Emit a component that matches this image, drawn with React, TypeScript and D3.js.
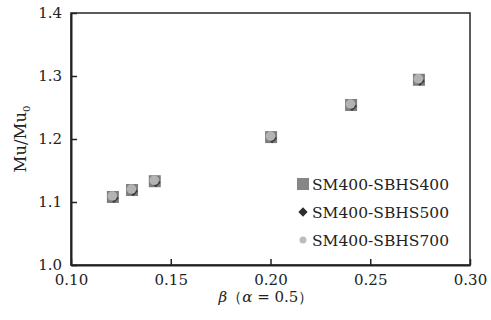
import { useRef, useEffect } from 'react';
import * as d3 from 'd3';

// values
const beta400 = [0.121, 0.1306, 0.142, 0.2003, 0.2404, 0.2744];
const mu400 = [1.108, 1.119, 1.133, 1.203, 1.254, 1.294];
const beta500 = [0.1215, 0.1311, 0.1425, 0.2008, 0.2409, 0.2749];
const mu500 = [1.106, 1.117, 1.131, 1.201, 1.252, 1.292];
const beta700 = [0.1207, 0.1303, 0.1417, 0.2, 0.2401, 0.2741];
const mu700 = [1.1095, 1.1205, 1.1345, 1.2045, 1.2555, 1.2955];
const xTicks = [0.1, 0.15, 0.2, 0.25, 0.3];
const yTicks = [1.0, 1.1, 1.2, 1.3, 1.4];
const seriesNames = ['SM400-SBHS400', 'SM400-SBHS500', 'SM400-SBHS700'];

const W = 491;
const H = 320;
const FONT = 'DejaVu Serif';

export default function App() {
  const svgRef = useRef<SVGSVGElement>(null);

  useEffect(() => {
    document.body.style.margin = '0';
    const svg = d3.select(svgRef.current);
    svg.selectAll('*').remove();

    const margin = { top: 13, right: 21, bottom: 55, left: 71 };
    const innerW = W - margin.left - margin.right;
    const innerH = H - margin.top - margin.bottom;

    const x = d3.scaleLinear().domain([0.1, 0.3]).range([margin.left, margin.left + innerW]);
    const y = d3.scaleLinear().domain([1.0, 1.4]).range([margin.top + innerH, margin.top]);

    // frame
    svg.append('rect')
      .attr('x', margin.left).attr('y', margin.top)
      .attr('width', innerW).attr('height', innerH)
      .attr('fill', 'none').attr('stroke', '#333').attr('stroke-width', 1.6);

    // bottom axis, ticks inward
    const xAxis = svg.append('g')
      .attr('transform', 'translate(0,' + (margin.top + innerH) + ')')
      .call(d3.axisBottom(x).tickValues(xTicks).tickSizeInner(-6).tickSizeOuter(0)
        .tickFormat(d3.format('.2f')));
    xAxis.attr('font-family', FONT).attr('font-size', 15);
    xAxis.select('.domain').attr('stroke', '#222').attr('stroke-width', 2);
    xAxis.selectAll('.tick line').attr('stroke', '#222').attr('stroke-width', 1.5);
    xAxis.selectAll('.tick text')
      .attr('y', 9).attr('dy', '0.71em')
      .attr('fill', '#222');

    // left axis, ticks inward
    const yAxis = svg.append('g')
      .attr('transform', 'translate(' + margin.left + ',0)')
      .call(d3.axisLeft(y).tickValues(yTicks).tickSizeInner(-6).tickSizeOuter(0)
        .tickFormat(d3.format('.1f')));
    yAxis.attr('font-family', FONT).attr('font-size', 15);
    yAxis.select('.domain').attr('stroke', '#222').attr('stroke-width', 2);
    yAxis.selectAll('.tick line').attr('stroke', '#222').attr('stroke-width', 1.5);
    yAxis.selectAll('.tick text')
      .attr('x', -9)
      .attr('fill', '#222');

    const plot = svg.append('g');

    // squares
    plot.selectAll('rect.s400')
      .data(d3.zip(beta400, mu400))
      .join('rect')
      .attr('class', 's400')
      .attr('x', d => x(d[0]) - 6).attr('y', d => y(d[1]) - 6)
      .attr('width', 12).attr('height', 12)
      .attr('fill', '#7d7d7d');

    // diamonds
    const diamond = d3.symbol().type(d3.symbolDiamond2).size(60);
    plot.selectAll('path.s500')
      .data(d3.zip(beta500, mu500))
      .join('path')
      .attr('class', 's500')
      .attr('transform', d => 'translate(' + x(d[0]) + ',' + y(d[1]) + ')')
      .attr('d', diamond)
      .attr('fill', '#3a3a3a');

    // circles
    plot.selectAll('circle.s700')
      .data(d3.zip(beta700, mu700))
      .join('circle')
      .attr('class', 's700')
      .attr('cx', d => x(d[0])).attr('cy', d => y(d[1]))
      .attr('r', 4.8)
      .attr('fill', '#b3b3b3');

    // legend
    const legend = svg.append('g').attr('transform', 'translate(303,184)');
    seriesNames.forEach((name, i) => {
      const row = legend.append('g').attr('transform', 'translate(0,' + i * 28 + ')');
      if (i === 0) {
        row.append('rect').attr('x', -6).attr('y', -6).attr('width', 12).attr('height', 12).attr('fill', '#868686');
      } else if (i === 1) {
        row.append('path').attr('d', d3.symbol().type(d3.symbolDiamond2).size(55)()).attr('fill', '#2e2e2e');
      } else {
        row.append('circle').attr('r', 3.5).attr('fill', '#bdbdbd');
      }
      row.append('text')
        .attr('x', 9).attr('dy', '0.37em')
        .attr('fill', '#222')
        .attr('font-family', FONT).attr('font-size', 15.5)
        .text(name);
    });

    // y label
    const yl = svg.append('text')
      .attr('transform', 'translate(26,' + (margin.top + innerH / 2) + ') rotate(-90)')
      .attr('text-anchor', 'middle')
      .attr('fill', '#222')
      .attr('font-family', FONT).attr('font-size', 16.5);
    yl.append('tspan').text('Mu/Mu');
    yl.append('tspan').attr('dy', 4).attr('font-size', 10).text('0');

    // x label
    const xl = svg.append('text')
      .attr('x', 266).attr('y', 302)
      .attr('text-anchor', 'middle')
      .attr('fill', '#222')
      .attr('font-family', FONT).attr('font-size', 15);
    xl.append('tspan').attr('font-style', 'italic').text('β');
    xl.append('tspan').text('（');
    xl.append('tspan').attr('font-style', 'italic').text('α');
    xl.append('tspan').text(' = 0.5）');
  }, []);

  return <svg ref={svgRef} width={W} height={H} style={{ display: 'block', background: '#fff' }} />;
}
